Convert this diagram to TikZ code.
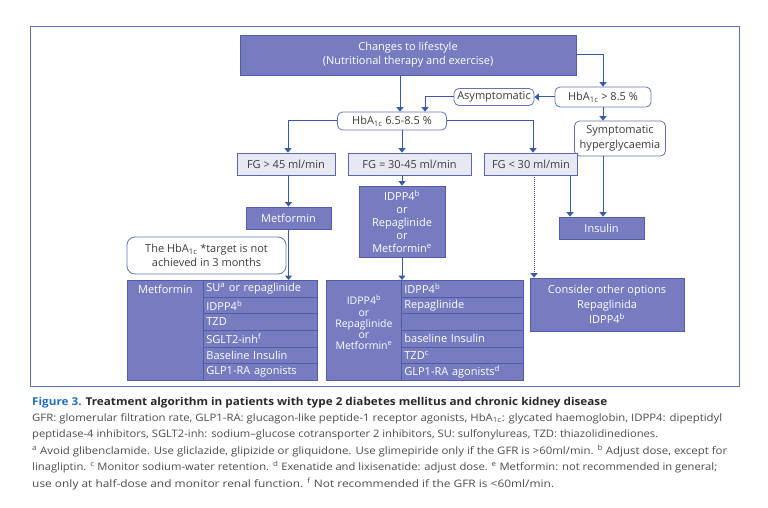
\documentclass[tikz,border=0pt]{standalone}
\usepackage{fontspec}
\setmainfont{Open Sans}
\usetikzlibrary{arrows.meta}
\definecolor{dfill}{RGB}{118,124,191}
\definecolor{dline}{RGB}{80,92,165}
\definecolor{lfill}{RGB}{232,232,244}
\definecolor{lline}{RGB}{90,105,172}
\definecolor{rline}{RGB}{100,115,180}
\definecolor{acol}{RGB}{55,90,165}
\definecolor{framecol}{RGB}{90,115,175}
\definecolor{tgray}{RGB}{60,60,60}
\definecolor{figblue}{RGB}{35,110,185}
\definecolor{titlegray}{RGB}{40,40,40}
\definecolor{capgray}{RGB}{75,75,75}
\tikzset{
  base/.style={font=\fontsize{11}{13.5}\selectfont, inner sep=0pt, align=center},
  dbox/.style={base, draw=dline, fill=dfill, text=white, line width=0.8pt},
  lbox/.style={base, draw=lline, fill=lfill, text=tgray, line width=0.8pt},
  rbox/.style={base, draw=rline, fill=white, text=tgray, rounded corners=5pt, line width=0.8pt},
  arr/.style={draw=acol, line width=1pt, -{Triangle[width=7pt,length=4.5pt]}},
  lcell/.style={dbox, anchor=north west, minimum height=16.667pt, align=left, text width=108pt, inner xsep=3pt},
  mcell/.style={dbox, anchor=north west, minimum height=16.667pt, align=left, text width=116pt, inner xsep=3pt},
  capline/.style={anchor=base west, inner sep=0pt, text=capgray, font=\fontsize{10.3}{12}\selectfont}
}
\begin{document}
\begin{tikzpicture}[x=1pt,y=-1pt]
\useasboundingbox (0,0) rectangle (768,508);
\node[draw=framecol, line width=1pt, minimum width=709pt, minimum height=360pt, anchor=north west, inner sep=0pt] (frame) at (30,26) {};

% main boxes
\node[dbox, minimum width=336pt, minimum height=40pt, font=\fontsize{11}{14}\selectfont] (top) at (408,55) {Changes to lifestyle\\(Nutritional therapy and exercise)};
\node[rbox, minimum width=96pt, minimum height=20pt] (hb85) at (603,97) {HbA\textsubscript{1c} > 8.5 \%};
\node[rbox, minimum width=80pt, minimum height=17pt] (asym) at (494,97) {Asymptomatic};
\node[rbox, minimum width=109pt, minimum height=18pt] (hb65) at (392,121) {HbA\textsubscript{1c} 6.5-8.5 \%};
\node[rbox, minimum width=91pt, minimum height=35pt, font=\fontsize{11}{14.5}\selectfont] (sympt) at (620,138.5) {Symptomatic\\hyperglycaemia};
\node[lbox, minimum width=98pt, minimum height=22pt] (fg45) at (286,164) {FG > 45 ml/min};
\node[lbox, minimum width=123pt, minimum height=22pt] (fg3045) at (409.5,164) {FG = 30-45 ml/min};
\node[lbox, minimum width=93pt, minimum height=22pt] (fg30) at (531,164) {FG < 30 ml/min};
\node[dbox, minimum width=85pt, minimum height=22pt] (metf) at (288.5,218) {Metformin};
\node[dbox, minimum width=86pt, minimum height=71pt, font=\fontsize{11}{13}\selectfont] (idpp) at (402,221.5) {IDPP4\textsuperscript{b}\\or\\Repaglinide\\or\\Metformin\textsuperscript{e}};
\node[dbox, minimum width=85pt, minimum height=22pt] (insulin) at (601.5,228) {Insulin};
\node[rbox, rounded corners=8pt, minimum width=159pt, minimum height=37pt, font=\fontsize{11}{14.5}\selectfont] (target) at (206.5,255.5) {The HbA\textsubscript{1c} *target is not\\achieved in 3 months};
\node[dbox, minimum width=154pt, minimum height=53pt, font=\fontsize{11}{15}\selectfont] (consider) at (607,304.5) {Consider other options\\Repaglinida\\IDPP4\textsuperscript{b}};

% left table
\node[dbox, anchor=north west] (ltabL) at (127,280) {\parbox[t][100pt][t]{76pt}{\centering\vspace*{4.5pt}Metformin}};
\node[lcell] (l1) at (203,280) {SU\textsuperscript{a} or repaglinide};
\node[lcell] (l2) at (203,296.667) {IDPP4\textsuperscript{b}};
\node[lcell] (l3) at (203,313.333) {TZD};
\node[lcell] (l4) at (203,330) {SGLT2-inh\textsuperscript{f}};
\node[lcell] (l5) at (203,346.667) {Baseline Insulin};
\node[lcell] (l6) at (203,363.333) {GLP1-RA agonists};

% middle table
\node[dbox, anchor=north west] (mtabL) at (326,280) {\parbox[t][100pt][t]{75pt}{\centering\fontsize{10.5}{11.2}\selectfont\vspace*{15pt}IDPP4\textsuperscript{b}\\or\\Repaglinide\\or\\Metformin\textsuperscript{e}}};
\node[mcell] (m1) at (401,280) {IDPP4\textsuperscript{b}};
\node[mcell] (m2) at (401,296.667) {Repaglinide};
\node[mcell] (m3) at (401,313.333) {};
\node[mcell] (m4) at (401,330) {baseline Insulin};
\node[mcell] (m5) at (401,346.667) {TZD\textsuperscript{c}};
\node[mcell] (m6) at (401,363.333) {GLP1-RA agonists\textsuperscript{d}};

% connectors
\draw[arr] (top.east) -| (hb85.north);
\draw[arr] (hb85.west) -- (asym.east);
\draw[arr] (asym.west) -| ([xshift=33pt]hb65.north);
\draw[arr] ([xshift=-8pt]top.south) -- ([xshift=8pt]hb65.north);
\draw[arr] (hb65.west) -| ([xshift=2pt]fg45.north);
\draw[arr] (idpp.north |- hb65.south) -- (idpp.north |- fg3045.north);
\draw[arr] (hb65.east) -| ([xshift=2pt]fg30.north);
\draw[arr] (hb85.south) -- (hb85.south |- sympt.north);
\draw[arr] (hb85.south |- sympt.south) -- (hb85.south |- insulin.north);
\draw[arr] ([xshift=39pt]fg30.south) -- ([xshift=39pt]fg30.south |- insulin.north);
\draw[arr, densely dotted] ([xshift=3pt]fg30.south) -- ([xshift=3pt]fg30.south |- consider.north);
\draw[arr] (metf.north |- fg45.south) -- (metf.north);
\draw[arr] (idpp.south |- fg3045.south) -- (idpp.north);
\draw[arr] (metf.south) -- (metf.south |- l1.north);
\draw[arr] (idpp.south) -- (idpp.south |- m1.north);

% caption
\node[capline, font=\fontsize{10.8}{12}\selectfont\bfseries] (cap1) at (32,405) {\resizebox{575pt}{\height}{{\color{figblue}Figure 3.} \color{titlegray}Treatment algorithm in patients with type 2 diabetes mellitus and chronic kidney disease}};
\node[capline] (cap2) at (32,421) {\resizebox{690pt}{\height}{GFR: glomerular filtration rate, GLP1-RA: glucagon-like peptide-1 receptor agonists, HbA\textsubscript{1c}: glycated haemoglobin, IDPP4: dipeptidyl}};
\node[capline] (cap3) at (32,437.5) {\resizebox{626pt}{\height}{peptidase-4 inhibitors, SGLT2-inh: sodium–glucose cotransporter 2 inhibitors, SU: sulfonylureas, TZD: thiazolidinediones.}};
\node[capline] (cap4) at (32,454) {\resizebox{695pt}{\height}{\textsuperscript{a} Avoid glibenclamide. Use gliclazide, glipizide or gliquidone. Use glimepiride only if the GFR is >60ml/min. \textsuperscript{b} Adjust dose, except for}};
\node[capline] (cap5) at (32,470.5) {\resizebox{685pt}{\height}{linagliptin. \textsuperscript{c} Monitor sodium-water retention. \textsuperscript{d} Exenatide and lixisenatide: adjust dose. \textsuperscript{e} Metformin: not recommended in general;}};
\node[capline] (cap6) at (32,487) {\resizebox{522pt}{\height}{use only at half-dose and monitor renal function. \textsuperscript{f} Not recommended if the GFR is <60ml/min.}};
\end{tikzpicture}
\end{document}
